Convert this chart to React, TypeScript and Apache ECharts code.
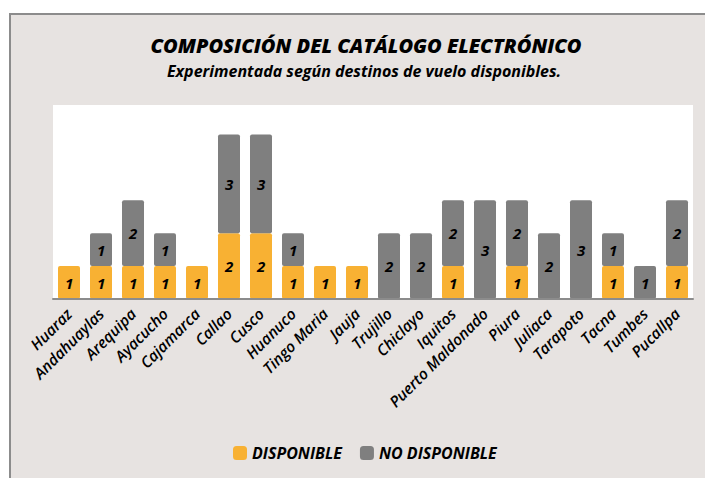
import React, { useEffect, useRef } from "react";
import * as echarts from "echarts";

const categories = [
  "Huaraz", "Andahuaylas", "Arequipa", "Ayacucho", "Cajamarca", "Callao", "Cusco",
  "Huanuco", "Tingo Maria", "Jauja", "Trujillo", "Chiclayo", "Iquitos",
  "Puerto Maldonado", "Piura", "Juliaca", "Tarapoto", "Tacna", "Tumbes", "Pucallpa",
];
const disponible = [1, 1, 1, 1, 1, 2, 2, 1, 1, 1, 0, 0, 1, 0, 1, 0, 0, 1, 0, 1];
const noDisponible = [0, 1, 2, 1, 0, 3, 3, 1, 0, 0, 2, 2, 2, 3, 2, 2, 3, 1, 1, 2];

const FONT = "Open Sans";

export default function App() {
  const ref = useRef<HTMLDivElement>(null);
  useEffect(() => {
    if (!ref.current) return;
    const chart = echarts.init(ref.current, null, { renderer: "svg" });
    const label = {
      show: true,
      position: "inside",
      color: "#000",
      fontFamily: FONT,
      fontStyle: "italic",
      fontWeight: "bold",
      fontSize: 15,
      formatter: (p: any) => (p.value ? String(p.value) : ""),
    };
    chart.setOption({
      animation: false,
      backgroundColor: "#ffffff",
      graphic: [
        {
          type: "rect",
          z: -10,
          silent: true,
          shape: { x: 10, y: 14, width: 800, height: 600 },
          style: { fill: "#E7E3E1", stroke: "#8C8C8C", lineWidth: 2 },
        },
      ],
      title: [
        {
          text: "COMPOSICIÓN DEL CATÁLOGO ELECTRÓNICO",
          left: 361,
          textAlign: "center",
          top: 30,
          textStyle: {
            fontFamily: FONT,
            fontStyle: "italic",
            fontWeight: 800,
            fontSize: 20,
            color: "#000",
          },
        },
        {
          text: "Experimentada según destinos de vuelo disponibles.",
          left: 359,
          textAlign: "center",
          top: 58,
          textStyle: {
            fontFamily: FONT,
            fontStyle: "italic",
            fontWeight: "bold",
            fontSize: 16,
            color: "#000",
          },
        },
      ],
      legend: {
        bottom: 12,
        left: 228,
        itemWidth: 14,
        itemHeight: 14,
        itemGap: 18,
        icon: "roundRect",
        textStyle: {
          fontFamily: FONT,
          fontStyle: "italic",
          fontWeight: "bold",
          fontSize: 16,
          color: "#000",
        },
        data: ["DISPONIBLE", "NO DISPONIBLE"],
      },
      grid: {
        left: 53,
        right: 12,
        top: 105,
        bottom: 179,
        show: true,
        backgroundColor: "#ffffff",
        borderWidth: 0,
      },
      xAxis: {
        type: "category",
        data: categories,
        axisLine: { show: true, lineStyle: { color: "#8C8C8C", width: 2 } },
        axisTick: { show: false },
        axisLabel: {
          interval: 0,
          rotate: 45,
          margin: 12,
          fontFamily: FONT,
          fontStyle: "italic",
          fontWeight: 600,
          fontSize: 15.5,
          color: "#000",
        },
        z: 10,
      },
      yAxis: {
        type: "value",
        min: 0,
        max: 5.9,
        show: false,
        splitLine: { show: false },
      },
      series: [
        {
          name: "DISPONIBLE",
          type: "bar",
          stack: "total",
          barWidth: 22,
          data: disponible,
          itemStyle: { color: "#F8B133", borderRadius: 2 },
          label,
        },
        {
          name: "NO DISPONIBLE",
          type: "bar",
          stack: "total",
          barWidth: 22,
          data: noDisponible,
          itemStyle: { color: "#7F7F7F", borderRadius: 2 },
          label,
        },
      ],
    });
    return () => chart.dispose();
  }, []);
  return (
    <div
      ref={ref}
      style={{ position: "absolute", left: 0, top: 0, width: 705, height: 478 }}
    />
  );
}
